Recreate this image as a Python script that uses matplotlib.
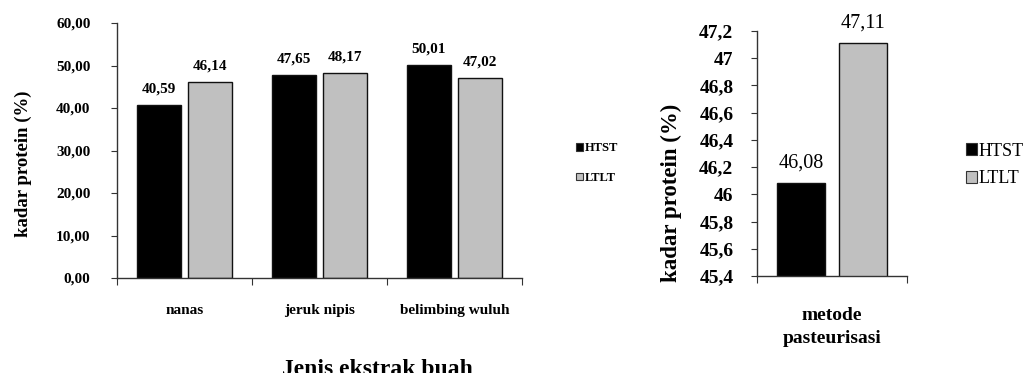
import matplotlib
matplotlib.use("Agg")
import matplotlib.pyplot as plt
import numpy as np
from matplotlib.patches import Patch

categories = ["nanas", "jeruk nipis", "belimbing wuluh"]
htst_left = [40.59, 47.65, 50.01]
ltlt_left = [46.14, 48.17, 47.02]
series_names = ["HTST", "LTLT"]
right_values = [46.08, 47.11]
left_yticks = [0, 10, 20, 30, 40, 50, 60]
right_yticks = [45.4, 45.6, 45.8, 46.0, 46.2, 46.4, 46.6, 46.8, 47.0, 47.2]

colors = ["#000000", "#C0C0C0"]
serif = "Liberation Serif"
plt.rcParams["font.family"] = serif

fig = plt.figure(figsize=(10.26, 3.73), dpi=100)

# ---------- left chart ----------
ax1 = fig.add_axes([117/1026, 95/373, 405/1026, 255/373])
x = np.arange(len(categories)) + 0.5
w = 0.33
off = 0.19
b1 = ax1.bar(x - off, htst_left, width=w, color=colors[0], edgecolor="#111111", linewidth=1)
b2 = ax1.bar(x + off, ltlt_left, width=w, color=colors[1], edgecolor="#111111", linewidth=1)
for bars, vals in ((b1, htst_left), (b2, ltlt_left)):
    for r, v in zip(bars, vals):
        ax1.annotate(f"{v:.2f}".replace(".", ","), (r.get_x() + r.get_width()/2, v),
                     xytext=(0, 7), textcoords="offset points", ha="center", va="bottom",
                     fontsize=11, fontweight="bold", family=serif)
ax1.set_xlim(0, 3)
ax1.set_ylim(0, 60)
ax1.set_yticks(left_yticks)
ax1.set_yticklabels([f"{v:.2f}".replace(".", ",") for v in left_yticks],
                    fontsize=11, fontweight="bold")
ax1.set_xticks([0, 1, 2, 3])
ax1.set_xticklabels([])
ax1.set_xticks(x, minor=True)
ax1.set_xticklabels(categories, minor=True, fontsize=11, fontweight="bold")
ax1.tick_params(axis="x", which="minor", length=0, pad=19)
ax1.tick_params(axis="x", which="major", length=5, direction="out", color="#333333")
ax1.tick_params(axis="y", length=4, direction="out", pad=15, color="#333333")
for s in ("top", "right"):
    ax1.spines[s].set_visible(False)
for s in ("left", "bottom"):
    ax1.spines[s].set_color("#333333")
    ax1.spines[s].set_linewidth(1)
ax1.set_ylabel("kadar protein (%)", fontsize=13.5, fontweight="bold")
ax1.yaxis.set_label_coords(-0.21, 0.447)
fig.text(377/1026, 1 - 359/373, "Jenis ekstrak buah", ha="center", va="top",
         fontsize=17, fontweight="bold", family=serif)

handles = [Patch(facecolor=colors[0], edgecolor="#333333", linewidth=0.8),
           Patch(facecolor=colors[1], edgecolor="#333333", linewidth=0.8)]
fig.legend(handles, series_names, loc="center left", bbox_to_anchor=(576/1026, 1 - 163/373),
           frameon=False, borderpad=0, borderaxespad=0,
           handlelength=0.55, handleheight=0.55, handletextpad=0.15,
           labelspacing=1.4, prop={"family": serif, "weight": "bold", "size": 9})

# ---------- right chart ----------
ax2 = fig.add_axes([757/1026, 97/373, 150/1026, 245/373])
xr = [0.5 - 0.207, 0.5 + 0.207]
rb = ax2.bar(xr, right_values, width=0.32, color=colors, edgecolor="#111111", linewidth=1)
for r, v in zip(rb, right_values):
    ax2.annotate(f"{v:.2f}".replace(".", ","), (r.get_x() + r.get_width()/2, v),
                 xytext=(0, 8), textcoords="offset points", ha="center", va="bottom",
                 fontsize=14.5, family=serif)
ax2.set_xlim(0, 1)
ax2.set_ylim(45.4, 47.2)
ax2.set_yticks(right_yticks)
ax2.set_yticklabels([f"{v:.1f}".rstrip("0").rstrip(".").replace(".", ",") for v in right_yticks],
                    fontsize=14, fontweight="bold")
ax2.set_xticks([0, 1])
ax2.set_xticklabels([])
ax2.tick_params(axis="x", length=5, direction="out", color="#333333")
ax2.tick_params(axis="y", length=4, direction="out", pad=13, color="#333333")
for s in ("top", "right"):
    ax2.spines[s].set_visible(False)
for s in ("left", "bottom"):
    ax2.spines[s].set_color("#333333")
    ax2.spines[s].set_linewidth(1)
ax2.set_ylabel("kadar protein (%)", fontsize=16.5, fontweight="bold")
ax2.yaxis.set_label_coords(-0.5, 0.339)
ax2.set_xlabel("metode\npasteurisasi", fontsize=14, fontweight="bold", labelpad=14,
               linespacing=1.45)

fig.legend(handles, series_names, loc="center left", bbox_to_anchor=(966/1026, 1 - 165/373),
           frameon=False, borderpad=0, borderaxespad=0,
           handlelength=0.6, handleheight=0.6, handletextpad=0.1,
           labelspacing=0.6, prop={"family": serif, "size": 13})

fig.savefig("out.png", dpi=100)
